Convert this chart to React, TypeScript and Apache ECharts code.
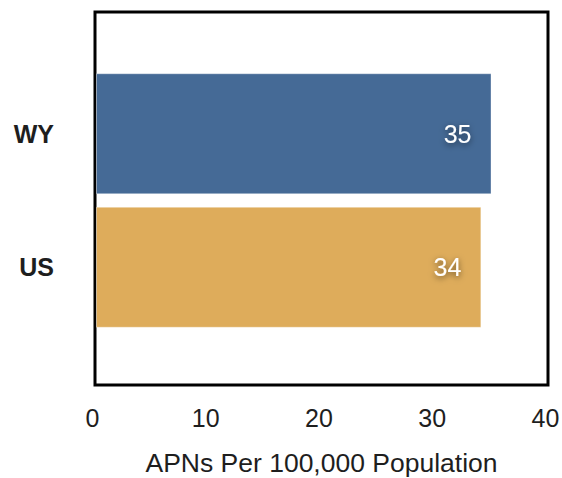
import React, { useEffect, useRef } from "react";
import * as echarts from "echarts";

const categories = ["WY", "US"];
const values = [35.0, 34.1];
const barColors = ["#456A96", "#DEAC5B"];
const xTicks = [0, 10, 20, 30, 40];
const xAxisName = "APNs Per 100,000 Population";

const FONT = "Helvetica, Arial, 'Liberation Sans', sans-serif";

export default function App() {
  const ref = useRef<HTMLDivElement>(null);
  useEffect(() => {
    if (!ref.current) return;
    const chart = echarts.init(ref.current, null, { renderer: "svg" });
    const xMin = xTicks[0];
    const xMax = xTicks[xTicks.length - 1];
    const interval = xTicks[1] - xTicks[0];
    chart.setOption({
      animation: false,
      backgroundColor: "#ffffff",
      grid: [
        {
          left: 95,
          right: 14,
          top: 12,
          bottom: 93,
          show: true,
          borderColor: "#000000",
          borderWidth: 3,
          backgroundColor: "transparent",
          outerBoundsMode: "none",
          containLabel: false,
        },
        {
          left: 96,
          right: 14,
          top: 67,
          height: 267,
          outerBoundsMode: "none",
          containLabel: false,
        },
      ],
      xAxis: [
        {
          gridIndex: 0,
          type: "value",
          min: xMin,
          max: xMax,
          interval,
          axisLine: { show: false },
          axisTick: { show: false },
          splitLine: { show: false },
          axisLabel: {
            color: "#1e1e1e",
            fontSize: 25,
            fontFamily: FONT,
            margin: 20,
            padding: [0, 5, 0, 0],
          },
          name: xAxisName,
          nameLocation: "middle",
          nameGap: 64,
          nameTextStyle: { color: "#1e1e1e", fontSize: 26.5, fontFamily: FONT },
        },
        {
          gridIndex: 1,
          type: "value",
          min: xMin,
          max: xMax,
          interval,
          show: false,
        },
      ],
      yAxis: [
        { gridIndex: 0, type: "value", show: false, min: 0, max: 1 },
        {
          gridIndex: 1,
          type: "category",
          data: categories,
          inverse: true,
          axisLine: { show: false },
          axisTick: { show: false },
          splitLine: { show: false },
          axisLabel: {
            color: "#1e1e1e",
            fontSize: 25,
            fontWeight: "bold",
            fontFamily: FONT,
            margin: 42,
          },
        },
      ],
      series: [
        {
          type: "bar",
          xAxisIndex: 1,
          yAxisIndex: 1,
          barWidth: 121,
          data: values.map((v, i) => ({
            value: v,
            itemStyle: {
              color: barColors[i],
              borderColor: "rgba(255,255,255,0.35)",
              borderWidth: 1,
            },
          })),
          label: {
            show: true,
            position: "insideRight",
            distance: 20,
            color: "#ffffff",
            fontSize: 25,
            fontFamily: FONT,
            formatter: (p: any) => String(Math.round(p.value)),
            textShadowColor: "rgba(0,0,0,0.55)",
            textShadowBlur: 6,
            textShadowOffsetX: 0,
            textShadowOffsetY: 2,
          },
        },
      ],
    });
    return () => chart.dispose();
  }, []);
  return (
    <div
      ref={ref}
      style={{ position: "fixed", left: 0, top: 0, width: 562, height: 478 }}
    />
  );
}
